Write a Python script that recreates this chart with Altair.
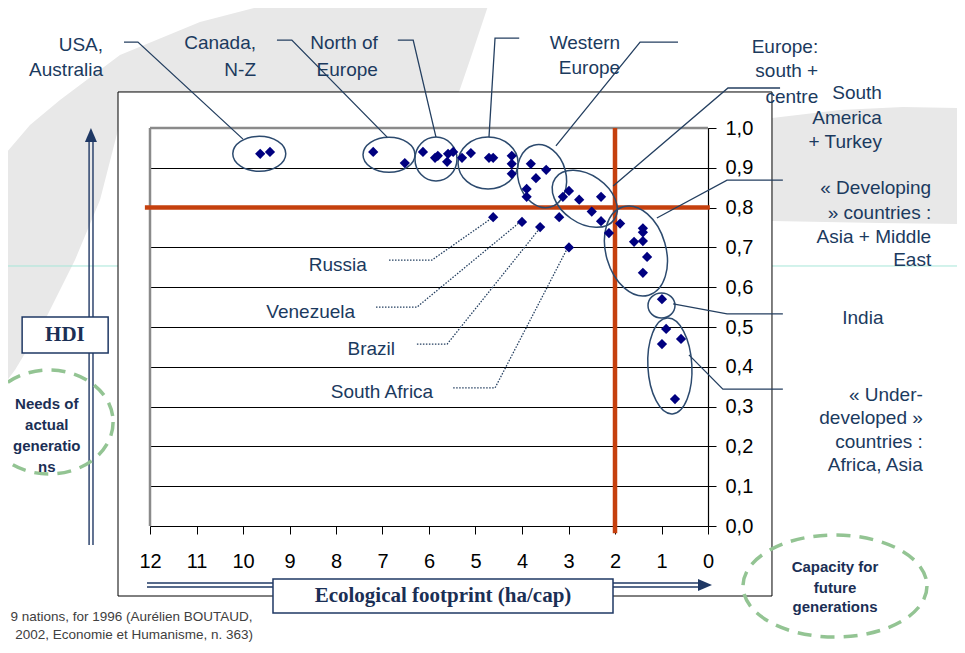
import altair as alt
import pandas as pd

# ---------------- data: ecological footprint (ha/cap) vs HDI, 1996 ----------------
eco = [9.63, 9.42, 7.20, 6.52, 6.13, 5.87, 5.81, 5.61, 5.59, 5.48,
       5.29, 5.10, 4.71, 4.62, 4.22, 4.22, 4.22,
       3.81, 3.48, 3.70, 3.90, 3.90,
       3.12, 2.99, 2.77, 2.30, 2.50, 2.30,
       2.13, 1.89, 1.40, 1.40, 1.59, 1.40, 1.31, 1.40,
       0.99,
       0.90, 0.99, 0.58, 0.71,
       4.62, 4.00, 3.61, 3.20, 2.99]
hdi = [0.935, 0.94, 0.94, 0.912, 0.94, 0.925, 0.93, 0.915, 0.935, 0.94,
       0.925, 0.937, 0.925, 0.925, 0.93, 0.91, 0.885,
       0.91, 0.895, 0.874, 0.847, 0.827,
       0.827, 0.842, 0.82, 0.827, 0.79, 0.766,
       0.736, 0.76, 0.748, 0.738, 0.714, 0.716, 0.676, 0.636,
       0.57,
       0.495, 0.457, 0.47, 0.319,
       0.776, 0.764, 0.751, 0.776, 0.70]

# group ellipses (centre in data units, size in px, rotation)
grp_x = [9.65, 6.86, 5.85, 4.73, 3.57, 2.65, 1.55, 1.00, 0.82]
grp_y = [0.935, 0.933, 0.922, 0.912, 0.879, 0.822, 0.691, 0.554, 0.402]
grp_w = [53, 52, 42, 60, 48, 72, 60, 27, 44]
grp_h = [35, 35, 44, 52, 64, 48, 92, 25, 96]
grp_angle = [0, 0, 0, 0, 345, 35, 344, 0, 357]

# callout lines (data units)
solid_lines = [
    ([12.56, 12.26, 10.00], [1.216, 1.216, 0.972]),
    ([9.27, 8.95, 6.90], [1.221, 1.221, 0.977]),
    ([6.67, 6.34, 5.85], [1.221, 1.221, 0.977]),
    ([4.06, 4.58, 4.71], [1.226, 1.226, 0.977]),
    ([0.645, 1.46, 3.27], [1.216, 1.216, 0.955]),
    ([-1.55, -0.43, 2.04], [1.1005, 1.1005, 0.854]),
    ([-1.61, -0.41, 1.10], [0.869, 0.869, 0.774]),
    ([-1.61, -0.41, 0.75], [0.533, 0.533, 0.558]),
    ([-1.61, -0.32, 0.41], [0.344, 0.344, 0.43]),
]
dotted_lines = [
    ([6.86, 5.94, 4.62], [0.668, 0.668, 0.776]),
    ([7.14, 6.26, 4.04], [0.550, 0.550, 0.764]),
    ([6.26, 5.61, 3.61], [0.457, 0.457, 0.749]),
    ([5.48, 4.58, 3.01], [0.347, 0.347, 0.701]),
]

# labels: (text, x, y)
labels_right = [
    ("USA,", 13.01, 1.2085), ("Australia", 13.01, 1.1457),
    ("Canada,", 9.72, 1.2136), ("N-Z", 9.72, 1.1457),
    ("North of", 7.10, 1.214), ("Europe", 7.10, 1.146),
    ("Western", 1.89, 1.214), ("Europe", 1.89, 1.151),
    ("Europe:", -2.37, 1.2035), ("south +", -2.37, 1.1432), ("centre", -2.37, 1.078),
    ("South", -3.74, 1.088), ("America", -3.74, 1.025), ("+ Turkey", -3.74, 0.965),
    ("« Developing", -4.80, 0.849), ("» countries :", -4.80, 0.786),
    ("Asia + Middle", -4.80, 0.726), ("East", -4.80, 0.668),
    ("« Under-", -4.62, 0.329), ("developed »", -4.62, 0.271),
    ("countries :", -4.62, 0.211), ("Africa, Asia", -4.62, 0.153),
    ("Venezuela", 7.59, 0.538), ("Brazil", 6.73, 0.445), ("South Africa", 5.91, 0.337),
]
labels_center = [("India", -3.33, 0.5226), ("Russia", 7.96, 0.656)]

needs_text = [("Needs of", 14.22, 0.3065), ("actual", 14.22, 0.2538),
              ("generatio", 14.22, 0.201), ("ns", 14.22, 0.148)]
capacity_text = [("Capacity for", -2.731, -0.103), ("future", -2.731, -0.1558),
                 ("generations", -2.731, -0.2035)]
footer_text = [("9 nations, for 1996 (Aurélien BOUTAUD,", 15.0, -0.2286),
               ("2002, Economie et Humanisme, n. 363)", 14.9, -0.2739)]

NAVY_TXT = "#1b3a5e"
LINE_COL = "#243f60"

# ---------------- shapes ----------------
def ellipse_path(w, h):
    m = max(w, h)
    a, b = w / m, h / m
    k = 0.5523
    return (f"M {a} 0 C {a} {k*b} {k*a} {b} 0 {b} C {-k*a} {b} {-a} {k*b} {-a} 0 "
            f"C {-a} {-k*b} {-k*a} {-b} 0 {-b} C {k*a} {-b} {a} {-k*b} {a} 0 Z")

def poly_path(pts):
    return "M " + " L ".join(f"{px} {py}" for px, py in pts) + " Z"

swoosh_left = [(0.16, -0.78), (0.98, -0.78), (0.9, -0.54), (0.856, -0.412), (-0.508, -0.412),
               (-0.508, -0.26), (-0.58, 0.02), (-0.68, 0.26), (-0.8, 0.5), (-0.92, 0.7),
               (-0.98, 0.78), (-0.98, -0.14), (-0.86, -0.28), (-0.74, -0.38), (-0.5, -0.56),
               (-0.18, -0.692)]
swoosh_right = [(-0.96, -0.48), (-0.28, -0.56), (0.35, -0.59), (0.97, -0.58), (0.97, 0.58),
                (0.12, 0.57), (-0.96, 0.55)]

XS = alt.Scale(domain=[0, 12], reverse=True, nice=False, zero=False)
YS = alt.Scale(domain=[0, 1], nice=False, zero=False)
XA = alt.Axis(orient="bottom", values=list(range(13)), format="d", tickSize=8, tickColor="black",
              domain=False, grid=False, labelFontSize=20, labelFont="Liberation Sans",
              labelColor="black", labelPadding=17, labelFlush=False, labelOverlap=False, title=None)
YA = alt.Axis(orient="right", values=[i / 10 for i in range(11)],
              labelExpr="replace(format(datum.value, '.1f'), '.', ',')",
              tickSize=8, tickColor="black", domainColor="black", domainWidth=1.2,
              grid=True, gridColor="black", gridWidth=1, gridOpacity=1,
              labelFontSize=20, labelFont="Liberation Sans", labelColor="black",
              labelPadding=9, labelFlush=False, labelOverlap=False, title=None)

def X(f="x"):
    return alt.X(f"{f}:Q", scale=XS, axis=XA)

def Y(f="y"):
    return alt.Y(f"{f}:Q", scale=YS, axis=YA)

layers = []

# background swooshes
sw = pd.DataFrame({"x": [9.957, -3.441], "y": [0.8317, 0.9045],
                   "path": [poly_path(swoosh_left), poly_path(swoosh_right)],
                   "sz": [250000, 40000]})
layers.append(alt.Chart(sw).mark_point(filled=True, opacity=1, color="#e8e8e8", strokeWidth=0, clip=False)
              .encode(x=X(), y=Y(), shape=alt.Shape("path:N", scale=None, legend=None),
                      size=alt.Size("sz:Q", scale=None, legend=None)))

# thin cyan slide line
cy = pd.DataFrame({"x": [15.3, -1.376], "x2": [12.688, -5.6], "y": [0.6533, 0.6533]})
layers.append(alt.Chart(cy).mark_rule(color="#a6e6d9", strokeWidth=1, clip=False)
              .encode(x=X(), x2="x2:Q", y=Y()))

# outer frame
fr = pd.DataFrame({"x": [12.688], "x2": [-1.376], "y": [1.0905], "y2": [-0.1759]})
layers.append(alt.Chart(fr).mark_rect(fillOpacity=0, stroke="black", strokeWidth=1, clip=False)
              .encode(x=X(), x2="x2:Q", y=Y(), y2="y2:Q"))

# gray plot borders (top and left)
gb = pd.DataFrame({"x": [12, 12], "x2": [0, 12], "y": [1.0, 0.0], "y2": [1.0, 1.0]})
layers.append(alt.Chart(gb).mark_rule(color="#8a8a8a", strokeWidth=2.5, clip=False)
              .encode(x=X(), x2="x2:Q", y=Y(), y2="y2:Q"))

# red threshold lines
rl = pd.DataFrame({"x": [2.0, 12.11], "x2": [2.0, -0.04], "y": [1.0, 0.8], "y2": [-0.018, 0.8]})
layers.append(alt.Chart(rl).mark_rule(color="#c5400e", strokeWidth=4.5, clip=False)
              .encode(x=X(), x2="x2:Q", y=Y(), y2="y2:Q"))

# group ellipses
el = pd.DataFrame({"x": grp_x, "y": grp_y,
                   "path": [ellipse_path(w, h) for w, h in zip(grp_w, grp_h)],
                   "sz": [max(w, h) ** 2 for w, h in zip(grp_w, grp_h)],
                   "ang": grp_angle})
layers.append(alt.Chart(el).mark_point(filled=False, opacity=1, color="#2c4a6e", strokeWidth=1.5, clip=False)
              .encode(x=X(), y=Y(), shape=alt.Shape("path:N", scale=None, legend=None),
                      size=alt.Size("sz:Q", scale=None, legend=None),
                      angle=alt.Angle("ang:Q", scale=None)))

# callout lines
def lines_df(lst):
    rows = []
    for g, (xs, ys) in enumerate(lst):
        for i, (a, b) in enumerate(zip(xs, ys)):
            rows.append({"g": g, "i": i, "x": a, "y": b})
    return pd.DataFrame(rows)

layers.append(alt.Chart(lines_df(solid_lines)).mark_line(color=LINE_COL, strokeWidth=1.3, clip=False)
              .encode(x=X(), y=Y(), detail="g:N", order="i:Q"))
layers.append(alt.Chart(lines_df(dotted_lines)).mark_line(color=LINE_COL, strokeWidth=1.3,
                                                           strokeDash=[1.5, 1.5], clip=False)
              .encode(x=X(), y=Y(), detail="g:N", order="i:Q"))

# nations
pts = pd.DataFrame({"x": eco, "y": hdi})
layers.append(alt.Chart(pts).mark_point(shape="diamond", filled=True, opacity=1, color="#000080", size=105)
              .encode(x=X(), y=Y()))

# labels
def text_df(lst):
    return pd.DataFrame({"t": [a for a, _, _ in lst], "x": [b for _, b, _ in lst],
                         "y": [c for _, _, c in lst]})

layers.append(alt.Chart(text_df(labels_right)).mark_text(align="right", baseline="middle",
              font="Liberation Sans", fontSize=19, color=NAVY_TXT, clip=False)
              .encode(x=X(), y=Y(), text="t:N"))
layers.append(alt.Chart(text_df(labels_center)).mark_text(align="center", baseline="middle",
              font="Liberation Sans", fontSize=19, color=NAVY_TXT, clip=False)
              .encode(x=X(), y=Y(), text="t:N"))

# double-line arrows
ar = pd.DataFrame({"x": [13.31, 13.226, 12.065, 12.065], "x2": [13.31, 13.226, 0.172, 0.172],
                   "y": [-0.0477, -0.0477, -0.1432, -0.1533], "y2": [0.9648, 0.9648, -0.1432, -0.1533]})
layers.append(alt.Chart(ar).mark_rule(color="#1f3864", strokeWidth=1.4, clip=False)
              .encode(x=X(), x2="x2:Q", y=Y(), y2="y2:Q"))
ah = pd.DataFrame({"x": [13.27, 0.0645], "y": [0.9824, -0.1482],
                   "path": ["M 0 -1 L 0.857 1 L -0.857 1 Z", "M 1 0 L -1 0.857 L -1 -0.857 Z"]})
layers.append(alt.Chart(ah).mark_point(filled=True, opacity=1, color="#1f3864", size=196, strokeWidth=0, clip=False)
              .encode(x=X(), y=Y(), shape=alt.Shape("path:N", scale=None, legend=None)))

# title boxes
bx = pd.DataFrame({"x": [14.75, 9.355], "x2": [12.90, 2.043], "y": [0.525, -0.1332], "y2": [0.4347, -0.2186]})
layers.append(alt.Chart(bx).mark_rect(fill="white", stroke="#1f3864", strokeWidth=1.5, clip=False)
              .encode(x=X(), x2="x2:Q", y=Y(), y2="y2:Q"))
bt = pd.DataFrame({"t": ["HDI", "Ecological footprint (ha/cap)"], "x": [13.83, 5.699], "y": [0.48, -0.1759]})
layers.append(alt.Chart(bt).mark_text(align="center", baseline="middle", font="Liberation Serif",
              fontSize=21, fontWeight="bold", color="#1b2f55", clip=False)
              .encode(x=X(), y=Y(), text="t:N"))

# green dashed ellipses
ge = pd.DataFrame({"x": [14.17, -2.731], "y": [0.2613, -0.1508],
                   "path": [ellipse_path(128, 104), ellipse_path(184, 102)],
                   "sz": [128 ** 2, 184 ** 2]})
layers.append(alt.Chart(ge).mark_point(filled=False, opacity=1, color="#93c493", strokeWidth=3.5,
              strokeDash=[14, 9], clip=False)
              .encode(x=X(), y=Y(), shape=alt.Shape("path:N", scale=None, legend=None),
                      size=alt.Size("sz:Q", scale=None, legend=None)))
layers.append(alt.Chart(text_df(needs_text + capacity_text)).mark_text(align="center", baseline="middle",
              font="Liberation Sans", fontSize=15, fontWeight="bold", color="#1b2f55", clip=False)
              .encode(x=X(), y=Y(), text="t:N"))

# source footer
layers.append(alt.Chart(text_df(footer_text)).mark_text(align="left", baseline="middle",
              font="Liberation Sans", fontSize=13.5, color="#404040", clip=False)
              .encode(x=X(), y=Y(), text="t:N"))

chart = (alt.layer(*layers)
         .properties(width=558, height=398,
                     padding={"left": 142, "top": 120, "right": 249, "bottom": 125},
                     autosize=alt.AutoSizeParams(type="none"))
         .configure_view(stroke=None))

chart.save("out.html", embed_options={"renderer": "svg", "actions": False})
